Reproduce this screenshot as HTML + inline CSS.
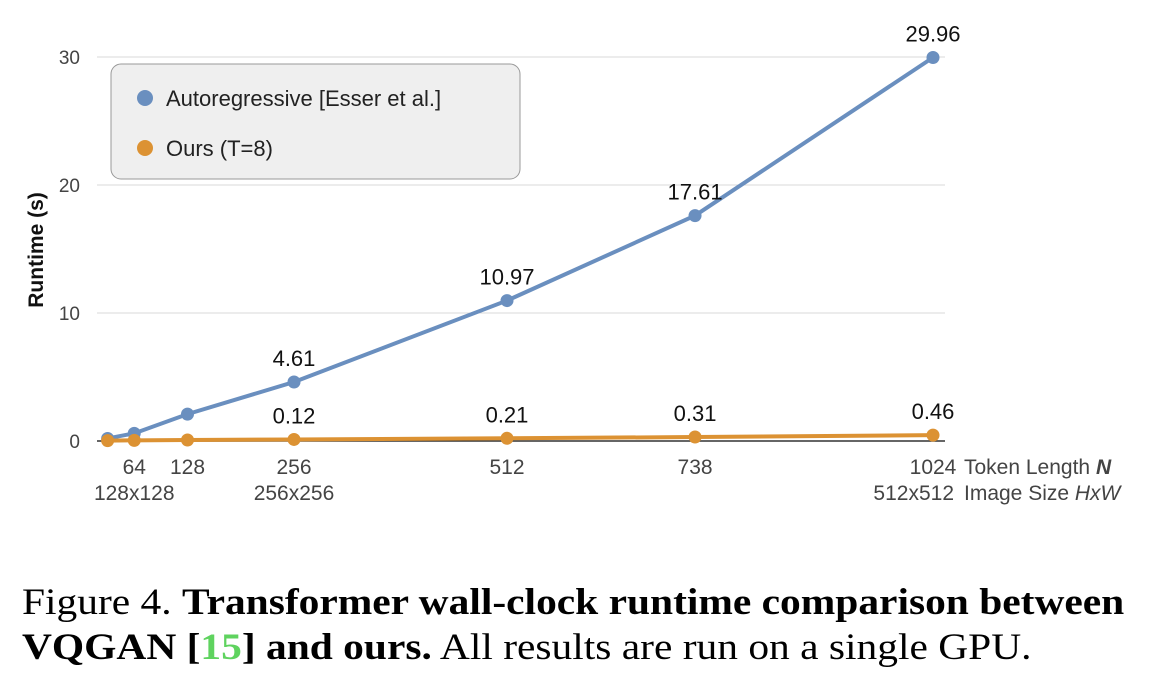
<!DOCTYPE html>
<html><head><meta charset="utf-8"><style>
body{margin:0;background:#fff;width:1152px;height:684px;overflow:hidden;font-family:"Liberation Sans",sans-serif}
svg text{font-family:"Liberation Sans",sans-serif}
.cap{position:absolute;left:22px;top:580px;font-family:"Liberation Serif",serif;font-size:37px;line-height:45px;color:#000;white-space:nowrap;transform:scaleX(1.12);transform-origin:0 0}
</style></head><body>
<svg id="chart" width="1152" height="580" style="position:absolute;left:0;top:0"></svg>
<div class="cap">Figure 4. <b>Transformer wall-clock runtime comparison between</b><br><b>VQGAN [<span style="color:#5fd35f">15</span>] and ours.</b> All results are run on a single GPU.</div>
<script>
const tokens=[32,64,128,256,512,738,1024];
const autoVals=[0.2,0.6,2.1,4.61,10.97,17.61,29.96];
const oursVals=[0.03,0.05,0.08,0.12,0.21,0.31,0.46];
const autoLabelIdx=[3,4,5,6];
const oursLabelIdx=[3,4,5,6];
const xTicks=[64,128,256,512,738,1024];
const yTicks=[0,10,20,30];
const sizeTicks=[[64,"128x128"],[256,"256x256"],[1024,"512x512"]];
const NS="http://www.w3.org/2000/svg";
const svg=document.getElementById('chart');
const X=v=>81+v*(852/1024);
const Y=v=>441-v*12.8;
function mk(t,a,txt){const e=document.createElementNS(NS,t);for(const k in a)e.setAttribute(k,a[k]);if(txt!=null)e.textContent=txt;svg.appendChild(e);return e;}
yTicks.forEach(v=>{
 if(v>0){const g=mk('line',{x1:97,x2:945,y1:Y(v),y2:Y(v),stroke:'#d8d8d8','stroke-width':1});
 
 }
 const t=mk('text',{x:80,y:Y(v)+7,'text-anchor':'end','font-size':19,fill:'#444'},v);
 
 
});
const ax=mk('line',{x1:97,x2:945,y1:441,y2:441,stroke:'#333','stroke-width':1.5});


xTicks.forEach(v=>{const t=mk('text',{x:X(v),y:474,'text-anchor':'middle','font-size':21,fill:'#444'},v);
 
 });
sizeTicks.forEach(s=>{const t=mk('text',{x:s[0]===1024?X(s[0])+21:X(s[0]),y:500,'text-anchor':s[0]===1024?'end':'middle','font-size':21,fill:'#444'},s[1]);
 
 });
const tl=mk('text',{x:964,y:474,'font-size':21,fill:'#444'});tl.innerHTML='Token Length <tspan font-weight="bold" font-style="italic">N</tspan>';


const il=mk('text',{x:964,y:500,'font-size':21,fill:'#444'});il.innerHTML='Image Size <tspan font-style="italic">HxW</tspan>';


const yt=mk('text',{x:0,y:0,transform:'translate(43,250) rotate(-90)','text-anchor':'middle','font-size':21,'font-weight':'bold',fill:'#111'},'Runtime (s)');


function series(vals,col,name,lbls){
 const p=mk('polyline',{points:tokens.map((t,i)=>X(t)+','+Y(vals[i])).join(' '),fill:'none',stroke:col,'stroke-width':4});
 
 
 tokens.forEach((t,i)=>{const c=mk('circle',{cx:X(t),cy:Y(vals[i]),r:6.5,fill:col});
  
  });
 lbls.forEach(i=>{const t=mk('text',{x:X(tokens[i]),y:Y(vals[i])-16,'text-anchor':'middle','font-size':22,fill:'#111'},vals[i].toFixed(2));
  
  });
}
series(autoVals,'#6a8fbf','autoregressive',autoLabelIdx);
series(oursVals,'#dc9233','ours',oursLabelIdx);
const lg=mk('rect',{x:111,y:64,width:409,height:115,rx:10,fill:'#efefef',stroke:'#999','stroke-width':1});


[['#6a8fbf','Autoregressive [Esser et al.]',98],['#dc9233','Ours (T=8)',148]].forEach((l,i)=>{
 const c=mk('circle',{cx:145,cy:l[2],r:8,fill:l[0]});
 
 
 const t=mk('text',{x:166,y:l[2]+8,'font-size':22,fill:'#222'},l[1]);
 
 
});
</script>
</body></html>
